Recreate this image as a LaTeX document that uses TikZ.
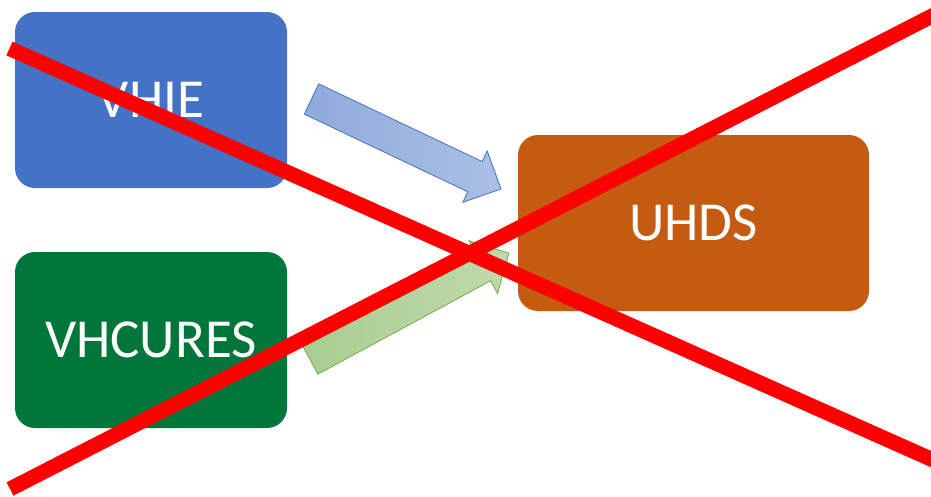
\documentclass[tikz,border=0pt]{standalone}
\usepackage{fontspec}
\setmainfont{Carlito}
\definecolor{vhieblue}{HTML}{4472C4}
\definecolor{curesgreen}{HTML}{00763A}
\definecolor{uhdsorange}{HTML}{C55A11}
\definecolor{flowgreen}{HTML}{70AD47}
\begin{document}
\begin{tikzpicture}[x=1pt,y=-1pt,
    box/.style={rounded corners=20pt,minimum width=272pt,minimum height=176pt,
        inner sep=0pt,text=white,font=\fontsize{55}{60}\selectfont},
    blueflow/.style={draw=vhieblue,line width=0.8pt,left color=vhieblue!60,right color=vhieblue!45},
    greenflow/.style={draw=flowgreen,line width=0.8pt,left color=flowgreen!60,right color=flowgreen!45},
    cross/.style={red,line width=15pt}]
    \useasboundingbox (0,0) rectangle (931,496);
    \node[box,fill=vhieblue] (vhie) at (151,100) {VHIE};
    \node[box,fill=curesgreen] (vhcures) at (151,340) {VHCURES};
    \node[box,fill=uhdsorange,minimum width=351pt] (uhds) at (693.5,223) {UHDS};
    % block arrows
    \draw[blueflow,shift={(311.5,99)},rotate=-25.4] (0,-16.75) -- (181,-16.75) -- (181,-28.4)
        -- (209.8,0) -- (181,28.4) -- (181,16.75) -- (0,16.75) -- cycle;
    \draw[greenflow,shift={(310.5,360.5)},rotate=28.4] (0,-15.5) -- (196.4,-15.5) -- (196.4,-30)
        -- (225.7,0) -- (196.4,30) -- (196.4,15.5) -- (0,15.5) -- cycle;
    % crossed out
    \draw[cross] (9.5,48.5) -- (945,465.3);
    \draw[cross] (10,489) -- (945,9.3);
\end{tikzpicture}
\end{document}
